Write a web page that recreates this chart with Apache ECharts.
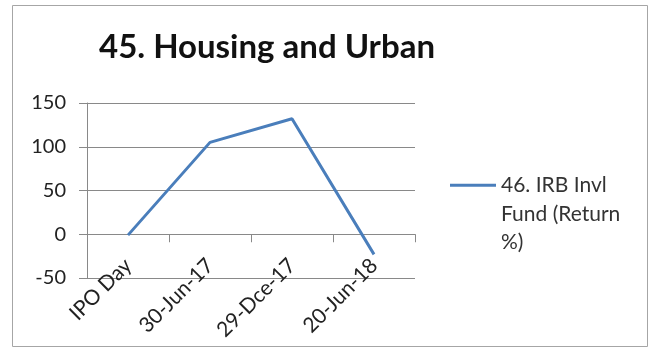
<!DOCTYPE html>
<html>
<head>
<meta charset="utf-8">
<script src="https://cdn.jsdelivr.net/npm/echarts@6/dist/echarts.min.js"></script>
<style>
  html, body { margin: 0; padding: 0; background: #fff; }
  #chart { width: 652px; height: 352px; }
</style>
</head>
<body>
<div id="chart"></div>
<script>
// Return of the fund at each checkpoint
const categories = ['IPO Day', '30-Jun-17', '29-Dce-17', '20-Jun-18'];
const returns = [-1, 105, 132, -23];
const seriesName = '46. IRB Invl Fund (Return %)';
const chartTitle = '45. Housing and Urban';
const yTicks = { min: -50, max: 150, step: 50 };

const FONT = 'Lato';
const LINE_BLUE = '#4a7ebb';
const AXIS_GRAY = '#898989';

const chart = echarts.init(document.getElementById('chart'));
chart.setOption({
  animation: false,
  backgroundColor: '#fff',
  title: {
    text: chartTitle,
    left: 267,
    top: 31,
    textAlign: 'center',
    padding: 0,
    textStyle: { fontFamily: FONT, fontSize: 33, fontWeight: 'bold', color: '#111' }
  },
  grid: { left: 87, right: 237, top: 103, bottom: 74 },
  legend: {
    orient: 'vertical',
    left: 450,
    top: 114,
    padding: 0,
    itemWidth: 46,
    itemHeight: 3,
    data: [{ name: seriesName, icon: 'rect' }],
    // two blank lines keep the first line of the wrapped name level with the key
    formatter: () => '\n\n46. IRB Invl\nFund (Return\n%)',
    textStyle: {
      fontFamily: FONT, fontSize: 21, color: '#333', lineHeight: 28.5
    }
  },
  xAxis: [
    {
      // labels sit along the bottom of the plot
      type: 'category',
      data: categories,
      position: 'bottom',
      boundaryGap: true,
      axisLine: { show: false, onZero: false },
      axisTick: { show: false },
      axisLabel: {
        rotate: 45, margin: -16, interval: 0,
        fontFamily: FONT, fontSize: 21, color: '#222'
      }
    },
    {
      // axis line and tick marks crossing at zero
      type: 'category',
      data: categories,
      position: 'bottom',
      boundaryGap: true,
      axisLine: { show: true, onZero: true, lineStyle: { color: AXIS_GRAY, width: 1 } },
      axisTick: { show: true, length: 8, lineStyle: { color: AXIS_GRAY } },
      axisLabel: { show: false },
      splitLine: { show: false }
    }
  ],
  yAxis: {
    type: 'value',
    min: yTicks.min,
    max: yTicks.max,
    interval: yTicks.step,
    axisLine: { show: true, lineStyle: { color: AXIS_GRAY } },
    axisTick: { show: true, length: 8, lineStyle: { color: AXIS_GRAY } },
    axisLabel: { margin: 21, fontFamily: FONT, fontSize: 20, color: '#222' },
    splitLine: { show: true, lineStyle: { color: AXIS_GRAY, width: 1 } }
  },
  series: [{
    name: seriesName,
    type: 'line',
    xAxisIndex: 0,
    data: returns,
    symbol: 'none',
    lineStyle: { color: LINE_BLUE, width: 3 },
    itemStyle: { color: LINE_BLUE }
  }],
  graphic: [{
    type: 'rect',
    shape: { x: 12.5, y: 5.5, width: 635, height: 341 },
    style: { fill: 'none', stroke: '#a6a6a6', lineWidth: 1 },
    silent: true
  }]
});
</script>
</body>
</html>
